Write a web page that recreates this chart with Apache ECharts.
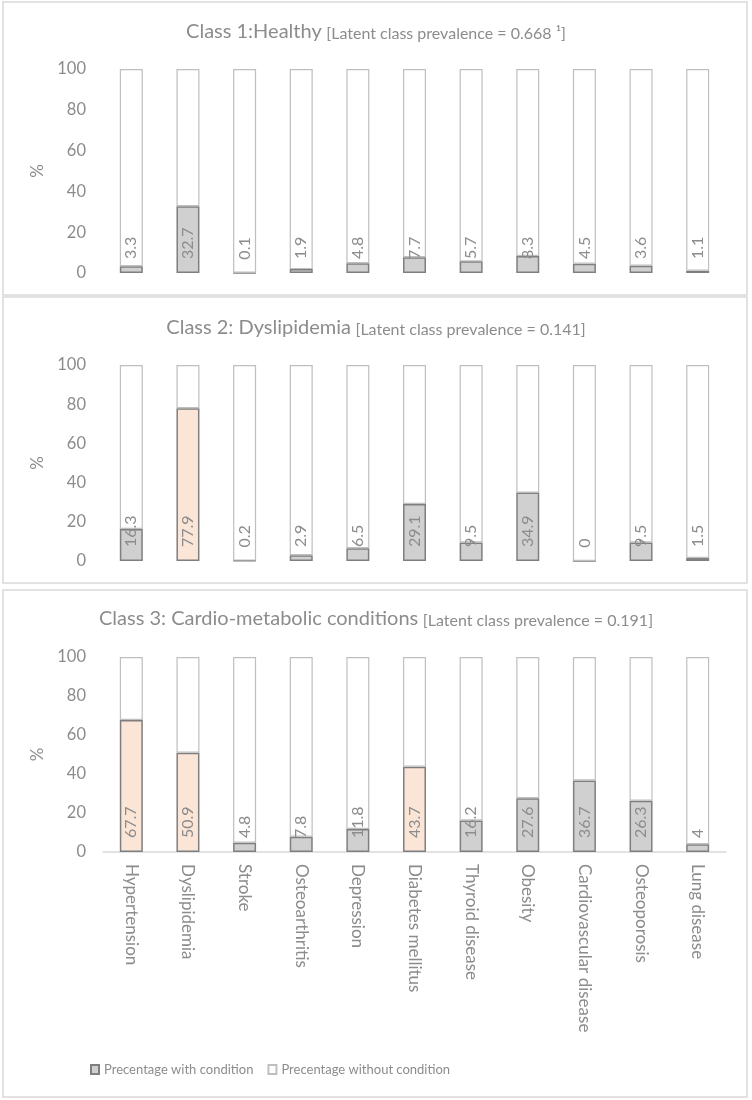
<!DOCTYPE html>
<html>
<head>
<meta charset="utf-8">
<script src="https://cdn.jsdelivr.net/npm/echarts@6/dist/echarts.min.js"></script>
<style>
  html, body { margin: 0; padding: 0; background: #fff; }
  #chart { width: 752px; height: 1100px; }
</style>
</head>
<body>
<div id="chart"></div>
<script>
// categories (same for all three classes)
const categories = ['Hypertension', 'Dyslipidemia', 'Stroke', 'Osteoarthritis', 'Depression',
  'Diabetes mellitus', 'Thyroid disease', 'Obesity', 'Cardiovascular disease', 'Osteoporosis', 'Lung disease'];

// percentage with condition
const with1 = [3.3, 32.7, 0.1, 1.9, 4.8, 7.7, 5.7, 8.3, 4.5, 3.6, 1.1];
const with2 = [16.3, 77.9, 0.2, 2.9, 6.5, 29.1, 9.5, 34.9, 0, 9.5, 1.5];
const with3 = [67.7, 50.9, 4.8, 7.8, 11.8, 43.7, 16.2, 27.6, 36.7, 26.3, 4];

// percentage without condition
const without1 = [96.7, 67.3, 99.9, 98.1, 95.2, 92.3, 94.3, 91.7, 95.5, 96.4, 98.9];
const without2 = [83.7, 22.1, 99.8, 97.1, 93.5, 70.9, 90.5, 65.1, 100, 90.5, 98.5];
const without3 = [32.3, 49.1, 95.2, 92.2, 88.2, 56.3, 83.8, 72.4, 63.3, 73.7, 96];

// highlighted (orange) bars per class
const highlight1 = [];
const highlight2 = [1];
const highlight3 = [0, 1, 5];

const yTicks = [0, 20, 40, 60, 80, 100];

const titles = [
  ['Class 1:Healthy', '[Latent class prevalence = 0.668 ¹]'],
  ['Class 2: Dyslipidemia', '[Latent class prevalence = 0.141]'],
  ['Class 3: Cardio-metabolic conditions', '[Latent class prevalence = 0.191]']
];

const textColor = '#8c8c8c';
const font = 'Lato';

const withData = (vals, hi) => vals.map((v, i) =>
  hi.includes(i) ? { value: v, itemStyle: { color: '#fbe5d6' } } : v);

const grids = [
  { left: 103, right: 26, top: 69, height: 204 },
  { left: 103, right: 26, top: 365, height: 196 },
  { left: 103, right: 26, top: 657, height: 195 }
];
const titleTops = [17, 313, 604];

let myChart = echarts.init(document.getElementById('chart'));

let option = {
  animation: false,
  textStyle: { fontFamily: font },
  title: titles.map((t, i) => ({
    text: '{a|' + t[0] + '} {b|' + t[1] + '}',
    left: 'center',
    top: titleTops[i],
    textStyle: {
      fontWeight: 'normal',
      rich: {
        a: { fontSize: 20, color: textColor, fontFamily: font, fontWeight: 'normal' },
        b: { fontSize: 16, color: textColor, fontFamily: font, fontWeight: 'normal', padding: [3, 0, 0, 0] }
      }
    }
  })),
  graphic: [
    { type: 'rect', shape: { x: 3, y: 2, width: 744, height: 293 }, style: { fill: 'none', stroke: '#d9d9d9', lineWidth: 1.5 } },
    { type: 'rect', shape: { x: 3, y: 297, width: 744, height: 286 }, style: { fill: 'none', stroke: '#d9d9d9', lineWidth: 1.5 } },
    { type: 'rect', shape: { x: 3, y: 590, width: 744, height: 507 }, style: { fill: 'none', stroke: '#d9d9d9', lineWidth: 1.5 } }
  ],
  legend: {
    left: 85,
    top: 1058,
    icon: 'rect',
    itemWidth: 8,
    itemHeight: 9,
    itemGap: 14,
    textStyle: { color: textColor, fontSize: 13, fontFamily: font },
    data: ['Precentage with condition', 'Precentage without condition']
  },
  grid: grids,
  xAxis: grids.map((g, i) => ({
    type: 'category',
    gridIndex: i,
    data: categories,
    axisTick: { show: false },
    axisLine: { show: i === 2, lineStyle: { color: '#d9d9d9', width: 1.5 } },
    axisLabel: {
      show: i === 2,
      rotate: -90,
      interval: 0,
      margin: 12,
      color: textColor,
      fontSize: 17,
      fontFamily: font
    }
  })),
  yAxis: grids.map((g, i) => ({
    type: 'value',
    gridIndex: i,
    min: yTicks[0],
    max: yTicks[yTicks.length - 1],
    interval: 20,
    name: '%',
    nameLocation: 'middle',
    nameRotate: 90,
    nameGap: 50,
    nameTextStyle: { color: textColor, fontSize: 17, fontFamily: font },
    splitLine: { show: false },
    axisLine: { show: false },
    axisTick: { show: false },
    axisLabel: { color: textColor, fontSize: 16.5, margin: 17, fontFamily: font }
  })),
  series: []
};

const withSets = [with1, with2, with3];
const withoutSets = [without1, without2, without3];
const hiSets = [highlight1, highlight2, highlight3];

for (let i = 0; i < 3; i++) {
  option.series.push({
    name: 'Precentage with condition',
    type: 'bar',
    xAxisIndex: i,
    yAxisIndex: i,
    stack: 'c' + i,
    barWidth: 23,
    data: withData(withSets[i], hiSets[i]),
    itemStyle: { color: '#d0d0d0', borderColor: '#7f7f7f', borderWidth: 1.5 },
    label: {
      show: true,
      position: 'insideBottom',
      distance: 14,
      rotate: 90,
      align: 'left',
      verticalAlign: 'middle',
      color: textColor,
      fontSize: 16,
      fontFamily: font
    }
  });
  option.series.push({
    name: 'Precentage without condition',
    type: 'bar',
    xAxisIndex: i,
    yAxisIndex: i,
    stack: 'c' + i,
    barWidth: 23,
    data: withoutSets[i],
    itemStyle: { color: '#ffffff', borderColor: '#bfbfbf', borderWidth: 1.2 }
  });
}

myChart.setOption(option);
</script>
</body>
</html>
